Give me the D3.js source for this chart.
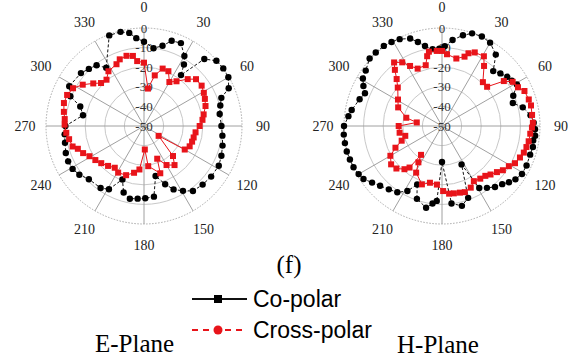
<!DOCTYPE html>
<html lang="en">
<head>
    <meta charset="UTF-8">
    <title>Radiation patterns</title>
    <script src="https://d3js.org/d3.v7.min.js"></script>
    <style>
        body { margin: 0; background: #fff; }
    </style>
</head>
<body>
    <div id="my_dataviz"></div>

    <script>
        // tick labels
        var angleTicks = [0, 30, 60, 90, 120, 150, 180, 210, 240, 270, 300, 330];
        var ringTicks = [0, -10, -20, -30, -40, -50];

        // E-Plane co-polar (black dots)
        var eCoAngle = [0, 7, 13, 18, 24, 30, 33, 36, 42, 48, 54, 60, 66, 70, 75, 81, 90, 97, 104, 111, 118, 127, 135, 143, 149, 155, 160, 167, 172, 179, 185, 191, 197, 202, 209, 215, 226, 233, 239, 245, 251, 258, 264, 270, 280, 287, 292, 298, 310, 316, 322, 327, 339, 346, 351, 355];
        var eCoDb = [-7, -10, -8, -4.3, -3.7, -8.8, -12.6, -17.9, -4, -0.3, 0, -0.3, -2.7, -8, -9.7, -10.9, -10.5, -9.7, -8.7, -7.7, -6.8, -7.1, -7.7, -8.5, -11.4, -14.3, -18.4, -23.8, -13.6, -13.1, -12.8, -12.2, -14.5, -20.6, -13.1, -11.4, -10.9, -8.7, -7.5, -7.3, -7.8, -8.8, -9.3, -9.9, -18.4, -16, -9.5, -6.8, -8, -9.5, -10.7, -14.6, -0.5, -0.5, -1.9, -5];

        // E-Plane cross-polar (red squares)
        var eCrossAngle = [0, 6, 12, 18, 24, 30, 36, 43, 48, 55, 61, 66, 72, 79, 84, 90, 97, 103, 108, 114, 120, 124, 136, 142, 150, 158, 161, 174, 178, 186, 192, 200, 209, 215, 222, 229, 235, 241, 246, 251, 254, 260, 265, 271, 275, 280, 286, 292, 298, 304, 310, 315, 321, 327, 336, 340, 346, 351, 354];
        var eCrossDb = [-17.7, -30.8, -23.6, -19.2, -19.4, -24.1, -21.8, -17.3, -14.3, -14.1, -15.1, -16, -17, -19, -20, -21.6, -23.5, -24, -24.2, -24.5, -26, -41, -28.7, -24.7, -27, -32, -24.5, -29.4, -38, -27.7, -25.6, -23.3, -22.8, -24, -22.6, -21.1, -19.7, -18.2, -16, -14.3, -12.1, -11.2, -10.2, -9.5, -9.4, -8.5, -7.5, -7.7, -9, -12.3, -16.2, -19, -19.6, -16.7, -15.5, -13.8, -13.1, -13.8, -16.7];

        // H-Plane co-polar (black dots)
        var hCoAngle = [2, 7, 13, 18, 24, 30, 37, 43, 48, 53, 57, 61, 67, 72, 77, 83, 88, 92, 96, 99, 103, 108, 115, 121, 126, 130, 134, 139, 144, 149, 153, 160, 166, 173, 180, 184, 187, 191, 199, 203, 208, 214, 220, 226, 231, 236, 240, 245, 250, 255, 260, 265, 270, 276, 280, 288, 293, 297, 301, 306, 313, 318, 324, 329, 334, 340, 344, 348, 353, 358];
        var hCoDb = [-9.2, -5.8, -2.5, -0.3, 0, -0.9, -4.4, -11.7, -9.9, -8.3, -7.5, -6.3, -10.5, -12, -7.7, -4.5, -3.2, -2.5, -2.2, -2.9, -2.4, -2.7, -2.4, -2.4, -3.7, -5.4, -7.3, -8.8, -11, -13.1, -28, -11, -8, -10.2, -31.6, -11.7, -10.2, -7.5, -10.7, -17.6, -12.4, -9.2, -7.8, -6.1, -4.1, -1.7, -0.9, -0.2, 0, 0.3, 0.3, 0.3, 0, -2, -3.2, -5.8, -7.3, -5, -2.9, -1.9, 0.5, 0.5, 0.5, 0, -0.7, -2.5, -5.4, -8.3, -10.5, -10.5];

        // H-Plane cross-polar (red squares)
        var hCrossAngle = [0, 4, 12, 18, 20, 24, 31, 35, 43, 49, 54, 58, 63, 67, 73, 77, 83, 88, 91, 95, 100, 104, 108, 112, 117, 121, 126, 130, 135, 139, 144, 150, 155, 161, 165, 170, 174, 179, 185, 192, 199, 209, 213, 216, 218, 221, 227, 233, 240, 245, 250, 255, 261, 270, 278, 283, 293, 301, 311, 316, 320, 323, 328, 332, 337, 345, 348, 350, 356];
        var hCrossDb = [-11.7, -13.3, -14.8, -12.8, -10.5, -8.9, -8.5, -12.6, -19.4, -19.5, -11, -7.5, -6.5, -4.3, -3.7, -3.4, -3.7, -3.6, -4.1, -4.8, -5.1, -5.6, -6.1, -7.1, -8.2, -10.2, -11.6, -13.4, -15, -16.3, -16.8, -17.5, -15.3, -14.3, -14.8, -15.1, -15.3, -16.8, -20, -20.4, -18.5, -22.8, -27.9, -31.8, -23.1, -20.8, -18.2, -17.5, -19.6, -23.8, -28.1, -30.6, -28.1, -27.9, -37, -31.3, -25.7, -23.8, -20.1, -16.7, -12.6, -9.4, -11.7, -15.3, -18.2, -17.9, -13.6, -11.5, -11.6];

        var width = 568, height = 360;
        var outerR = 98;

        var svg = d3.select("#my_dataviz")
            .append("svg")
            .attr("width", width)
            .attr("height", height);

        var r = d3.scaleLinear().domain([-50, 0]).range([0, outerR]);
        var theta = d3.scaleLinear().domain([0, 360]).range([0, 2 * Math.PI]);

        function zip(a, b) {
            return a.map(function(d, i) { return [d, b[i]]; });
        }

        function polarPlot(cx, cy, co, cross) {
            var g = svg.append("g")
                .attr("transform", "translate(" + cx + "," + cy + ")");

            // rings
            g.selectAll(".ring")
                .data(ringTicks.slice(0, 5))
                .enter()
                .append("circle")
                .attr("r", function(d) { return r(d); })
                .attr("fill", "none")
                .attr("stroke", function(d) { return d === 0 ? "#a8a8a8" : "#c8c8c8"; })
                .attr("stroke-dasharray", function(d) { return d === 0 ? "1.5,1.5" : null; })
                .attr("stroke-width", 1);

            // spokes
            g.selectAll(".spoke")
                .data(angleTicks)
                .enter()
                .append("line")
                .attr("x1", 0).attr("y1", 0)
                .attr("x2", function(d) { return outerR * Math.sin(theta(d)); })
                .attr("y2", function(d) { return -outerR * Math.cos(theta(d)); })
                .attr("stroke", "#a0a0a0")
                .attr("stroke-width", 1);

            // angle labels
            g.selectAll(".alabel")
                .data(angleTicks)
                .enter()
                .append("text")
                .attr("x", function(d) { return 119 * Math.sin(theta(d)); })
                .attr("y", function(d) { return -119 * Math.cos(theta(d)); })
                .attr("text-anchor", "middle")
                .attr("dominant-baseline", "central")
                .style("font-family", "'Liberation Serif', 'Times New Roman', serif")
                .style("font-size", "14px")
                .attr("fill", "#222")
                .text(function(d) { return d; });

            // ring labels along 0 deg
            g.selectAll(".rlabel")
                .data(ringTicks)
                .enter()
                .append("text")
                .attr("x", 0)
                .attr("y", function(d) { return -r(d); })
                .attr("text-anchor", "middle")
                .attr("dominant-baseline", "central")
                .style("font-family", "'Liberation Serif', 'Times New Roman', serif")
                .style("font-size", "13px")
                .attr("fill", "#333")
                .text(function(d) { return d; });

            var line = d3.lineRadial()
                .angle(function(d) { return theta(d[0]); })
                .radius(function(d) { return r(d[1]); })
                .curve(d3.curveLinearClosed);

            function xy(d) {
                return [r(d[1]) * Math.sin(theta(d[0])), -r(d[1]) * Math.cos(theta(d[0]))];
            }

            // co-polar: black dashed with dots
            g.append("path")
                .datum(co)
                .attr("d", line)
                .attr("fill", "none")
                .attr("stroke", "#111")
                .attr("stroke-width", 1)
                .attr("stroke-dasharray", "3,2");
            g.selectAll(".co")
                .data(co)
                .enter()
                .append("circle")
                .attr("cx", function(d) { return xy(d)[0]; })
                .attr("cy", function(d) { return xy(d)[1]; })
                .attr("r", 3.2)
                .attr("fill", "#000");

            // cross-polar: red solid with squares
            g.append("path")
                .datum(cross)
                .attr("d", line)
                .attr("fill", "none")
                .attr("stroke", "#e8141a")
                .attr("stroke-width", 1);
            g.selectAll(".cross")
                .data(cross)
                .enter()
                .append("rect")
                .attr("x", function(d) { return xy(d)[0] - 3; })
                .attr("y", function(d) { return xy(d)[1] - 3; })
                .attr("width", 6)
                .attr("height", 6)
                .attr("fill", "#e8141a");
        }

        polarPlot(144, 126, zip(eCoAngle, eCoDb), zip(eCrossAngle, eCrossDb));
        polarPlot(442, 126, zip(hCoAngle, hCoDb), zip(hCrossAngle, hCrossDb));

        var serif = "'Liberation Serif', 'Times New Roman', serif";
        var sans = "'Liberation Sans', Arial, sans-serif";

        svg.append("text")
            .attr("x", 289).attr("y", 273)
            .attr("text-anchor", "middle")
            .style("font-family", serif)
            .style("font-size", "25px")
            .text("(f)");

        // legend
        var legend = svg.append("g");
        legend.append("line")
            .attr("x1", 192).attr("x2", 247).attr("y1", 299).attr("y2", 299)
            .attr("stroke", "#111").attr("stroke-width", 2);
        legend.append("rect")
            .attr("x", 214).attr("y", 295).attr("width", 8).attr("height", 8)
            .attr("fill", "#000");
        legend.append("text")
            .attr("x", 253).attr("y", 307)
            .style("font-family", sans)
            .style("font-size", "23px")
            .text("Co-polar");

        legend.append("line")
            .attr("x1", 192).attr("x2", 247).attr("y1", 330).attr("y2", 330)
            .attr("stroke", "#e8141a").attr("stroke-width", 2)
            .attr("stroke-dasharray", "6,5");
        legend.append("circle")
            .attr("cx", 218).attr("cy", 330).attr("r", 4.5)
            .attr("fill", "#e8141a");
        legend.append("text")
            .attr("x", 253).attr("y", 338)
            .style("font-family", sans)
            .style("font-size", "23px")
            .text("Cross-polar");

        svg.append("text")
            .attr("x", 95).attr("y", 352)
            .style("font-family", serif)
            .style("font-size", "25px")
            .text("E-Plane");

        svg.append("text")
            .attr("x", 397).attr("y", 353)
            .style("font-family", serif)
            .style("font-size", "25px")
            .text("H-Plane");
    </script>
</body>
</html>
